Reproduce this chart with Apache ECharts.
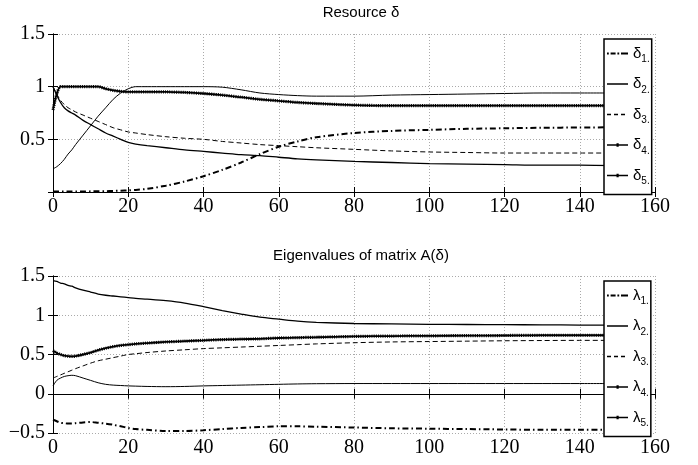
<!DOCTYPE html>
<html>
<head>
<meta charset="utf-8">
<script src="https://cdn.jsdelivr.net/npm/echarts@6/dist/echarts.min.js"></script>
<style>
  html, body { margin: 0; padding: 0; background: #fff; }
  #chart { width: 698px; height: 465px; }
</style>
</head>
<body>
<div id="chart"></div>
<script>
  // sample positions (x axis) shared by every curve
  var xs = [0, 1, 2, 3, 4, 5, 6, 8, 10, 12, 14, 16, 18, 20, 22, 25, 30, 35, 40, 45, 50, 55, 60, 65, 70, 80, 90, 100, 110, 120, 130, 140, 150];

  // Resource delta
  var delta1 = [0.005, 0.005, 0.005, 0.005, 0.005, 0.005, 0.005, 0.005, 0.006, 0.007, 0.008, 0.01, 0.012, 0.015, 0.02, 0.03, 0.06, 0.1, 0.15, 0.21, 0.28, 0.36, 0.43, 0.48, 0.52, 0.56, 0.58, 0.59, 0.6, 0.605, 0.61, 0.612, 0.615];
  var delta2 = [0.22, 0.24, 0.27, 0.31, 0.36, 0.4, 0.45, 0.54, 0.63, 0.72, 0.8, 0.88, 0.94, 0.98, 1.0, 1.0, 1.0, 1.0, 1.0, 0.995, 0.97, 0.94, 0.925, 0.915, 0.91, 0.91, 0.92, 0.925, 0.93, 0.935, 0.94, 0.94, 0.94];
  var delta3 = [1.0, 0.93, 0.87, 0.83, 0.8, 0.78, 0.76, 0.73, 0.7, 0.67, 0.64, 0.61, 0.59, 0.57, 0.56, 0.545, 0.525, 0.51, 0.5, 0.48, 0.465, 0.45, 0.44, 0.43, 0.42, 0.405, 0.39, 0.38, 0.375, 0.37, 0.37, 0.37, 0.37];
  var delta4 = [0.78, 0.93, 1.0, 1.0, 1.0, 1.0, 1.0, 1.0, 1.0, 1.0, 0.98, 0.965, 0.955, 0.95, 0.95, 0.95, 0.95, 0.945, 0.935, 0.92, 0.9, 0.88, 0.865, 0.85, 0.84, 0.825, 0.82, 0.82, 0.82, 0.82, 0.82, 0.82, 0.82];
  var delta5 = [1.0, 0.92, 0.85, 0.8, 0.77, 0.75, 0.73, 0.68, 0.64, 0.6, 0.56, 0.53, 0.5, 0.47, 0.455, 0.44, 0.42, 0.4, 0.385, 0.37, 0.355, 0.345, 0.33, 0.315, 0.305, 0.29, 0.28, 0.27, 0.265, 0.26, 0.255, 0.255, 0.25];

  // Eigenvalues of A(delta)
  var lambda1 = [-0.33, -0.35, -0.37, -0.375, -0.38, -0.38, -0.375, -0.365, -0.36, -0.37, -0.38, -0.395, -0.415, -0.435, -0.45, -0.46, -0.475, -0.475, -0.465, -0.45, -0.435, -0.425, -0.415, -0.415, -0.42, -0.43, -0.44, -0.445, -0.45, -0.455, -0.46, -0.46, -0.46];
  var lambda2 = [0.1, 0.17, 0.2, 0.22, 0.23, 0.235, 0.23, 0.2, 0.17, 0.14, 0.12, 0.11, 0.105, 0.1, 0.097, 0.093, 0.09, 0.093, 0.1, 0.105, 0.11, 0.115, 0.12, 0.125, 0.128, 0.13, 0.13, 0.13, 0.13, 0.13, 0.13, 0.13, 0.13];
  var lambda3 = [0.2, 0.22, 0.24, 0.26, 0.28, 0.3, 0.32, 0.355, 0.39, 0.42, 0.44, 0.46, 0.48, 0.5, 0.51, 0.525, 0.545, 0.56, 0.575, 0.585, 0.595, 0.605, 0.615, 0.625, 0.635, 0.65, 0.66, 0.665, 0.67, 0.675, 0.678, 0.68, 0.68];
  var lambda4 = [0.55, 0.52, 0.5, 0.485, 0.478, 0.475, 0.48, 0.5, 0.525, 0.555, 0.58, 0.6, 0.615, 0.625, 0.635, 0.645, 0.66, 0.67, 0.68, 0.69, 0.695, 0.7, 0.71, 0.715, 0.72, 0.73, 0.735, 0.738, 0.74, 0.742, 0.745, 0.745, 0.745];
  var lambda5 = [1.44, 1.43, 1.41, 1.4, 1.38, 1.37, 1.35, 1.32, 1.295, 1.27, 1.255, 1.245, 1.235, 1.225, 1.215, 1.205, 1.185, 1.155, 1.11, 1.06, 1.015, 0.975, 0.95, 0.925, 0.91, 0.895, 0.89, 0.885, 0.882, 0.88, 0.878, 0.875, 0.875];

  var titleTop = 'Resource δ';
  var titleBottom = 'Eigenvalues of matrix A(δ)';

  function pairs(ys) {
    return xs.map(function (x, i) { return [x, ys[i]]; });
  }

  var serif = 'Liberation Serif';
  var sans = 'Liberation Sans';
  var dashDot = [6, 3, 1.5, 3];
  var dashed = [5, 3];

  // legend icons, drawn in a 21x12 box (two tiny corner specks keep the box size)
  var box = 'M0,0h0.01v0.01h-0.01z M20.99,11.99h0.01v0.01h-0.01z ';
  var icons = {
    dashDot: 'path://' + box + 'M0,5h1.8v2h-1.8z M3.6,5h5v2h-5z M10.4,5h1.8v2h-1.8z M14,5h7v2h-7z',
    solid: 'path://' + box + 'M0,5.2h21v1.6h-21z',
    dashed: 'path://' + box + 'M0,5.2h4v1.6h-4z M7,5.2h4v1.6h-4z M14,5.2h4v1.6h-4z',
    dotted: 'path://' + box + 'M0,5.2h21v1.6h-21z M9.5,4.2h2.2v3.6h-2.2z'
  };

  function xAxes(gi) {
    return [
      {
        gridIndex: gi, type: 'value', min: 0, max: 160, interval: 20, position: 'bottom',
        axisLine: { lineStyle: { color: '#000', width: 1 } },
        axisTick: { inside: true, length: 5, lineStyle: { color: '#000' } },
        axisLabel: { color: '#000', fontFamily: serif, fontSize: 20, margin: 5 },
        splitLine: { show: true, lineStyle: { color: '#aaa', type: [1, 2] } }
      },
      {
        gridIndex: gi, type: 'value', min: 0, max: 160, interval: 20, position: 'top',
        axisLine: { show: true, lineStyle: { color: '#000', width: 1 } },
        axisTick: { inside: true, length: 5, lineStyle: { color: '#000' } },
        axisLabel: { show: false },
        splitLine: { show: false }
      }
    ];
  }

  function yAxes(gi, min, max, hideZero) {
    return [
      {
        gridIndex: gi, type: 'value', min: min, max: max, interval: 0.5, position: 'left',
        axisLine: { show: true, lineStyle: { color: '#000', width: 1 } },
        axisTick: { inside: true, length: 5, lineStyle: { color: '#000' } },
        axisLabel: {
          color: '#000', fontFamily: serif, fontSize: 20, margin: 8,
          formatter: function (v) {
            if (hideZero && v === 0) return '';
            return v < 0 ? '\u2212' + Math.abs(v) : String(v);
          }
        },
        splitLine: { show: true, lineStyle: { color: '#aaa', type: [1, 2] } }
      },
      {
        gridIndex: gi, type: 'value', min: min, max: max, interval: 0.5, position: 'right',
        axisLine: { show: true, lineStyle: { color: '#000', width: 1 } },
        axisTick: { inside: true, length: 5, lineStyle: { color: '#000' } },
        axisLabel: { show: false },
        splitLine: { show: false }
      }
    ];
  }

  function line(name, ys, axisIdx, opts) {
    return Object.assign({
      name: name, type: 'line', data: pairs(ys),
      xAxisIndex: axisIdx, yAxisIndex: axisIdx,
      smooth: 0.3, symbol: 'none', silent: true, z: 3,
      itemStyle: { color: '#000' },
      lineStyle: { color: '#000', width: 1 }
    }, opts || {});
  }

  function legendFor(names, top) {
    var styles = ['dashDot', 'solid', 'dashed', 'dotted', 'dotted'];
    return {
      data: names.map(function (n, i) { return { name: n, icon: icons[styles[i]] }; }),
      orient: 'vertical', left: 604, top: top,
      backgroundColor: '#fff', borderColor: '#000', borderWidth: 1.5,
      padding: [7, 2, 8, 3], itemWidth: 21, itemHeight: 12, itemGap: 12,
      itemStyle: { color: '#000', borderWidth: 0 },
      textStyle: {
        color: '#000', fontFamily: sans,
        rich: {
          a: { fontSize: 15, fontFamily: sans, color: '#000' },
          b: { fontSize: 10, fontFamily: sans, color: '#000', padding: [12, 0, 0, 0] }
        }
      },
      formatter: function (n) { return '{a|' + n[0] + '}{b|' + n.slice(1) + '.}'; }
    };
  }

  var chart = echarts.init(document.getElementById('chart'), null, { renderer: 'canvas' });
  chart.setOption({
    backgroundColor: '#fff',
    animation: false,
    title: [
      { text: titleTop, left: 356, top: 0, textAlign: 'center',
        textStyle: { fontFamily: sans, fontSize: 15, fontWeight: 'normal', color: '#000' } },
      { text: titleBottom, left: 356, top: 243, textAlign: 'center',
        textStyle: { fontFamily: sans, fontSize: 15, fontWeight: 'normal', color: '#000' } }
    ],
    grid: [
      { left: 53, top: 34, width: 602, height: 158 },
      { left: 53, top: 276, width: 602, height: 157 }
    ],
    xAxis: xAxes(0).concat(xAxes(1)),
    yAxis: yAxes(0, 0, 1.5, true).concat(yAxes(1, -0.5, 1.5, false)),
    legend: [
      legendFor(['δ1', 'δ2', 'δ3', 'δ4', 'δ5'], 39),
      legendFor(['λ1', 'λ2', 'λ3', 'λ4', 'λ5'], 281)
    ],
    series: [
      line('δ1', delta1, 0, { lineStyle: { color: '#000', width: 2, type: dashDot } }),
      line('δ2', delta2, 0),
      line('δ3', delta3, 0, { lineStyle: { color: '#000', width: 1, type: dashed } }),
      line('δ4', delta4, 0, { lineStyle: { color: '#000', width: 1.8 } }),
      line('δ4 dots', delta4, 0, { lineStyle: { color: '#000', width: 3.2, type: [1, 1.2] } }),
      line('δ5', delta5, 0, { lineStyle: { color: '#000', width: 1.3 } }),

      line('λ1', lambda1, 2, { lineStyle: { color: '#000', width: 2, type: dashDot } }),
      line('λ2', lambda2, 2),
      line('λ3', lambda3, 2, { lineStyle: { color: '#000', width: 1, type: dashed } }),
      line('λ4', lambda4, 2, { lineStyle: { color: '#000', width: 1.8 } }),
      line('λ4 dots', lambda4, 2, { lineStyle: { color: '#000', width: 3.2, type: [1, 1.2] } }),
      line('λ5', lambda5, 2, { lineStyle: { color: '#000', width: 1.3 } })
    ]
  });
</script>
</body>
</html>
